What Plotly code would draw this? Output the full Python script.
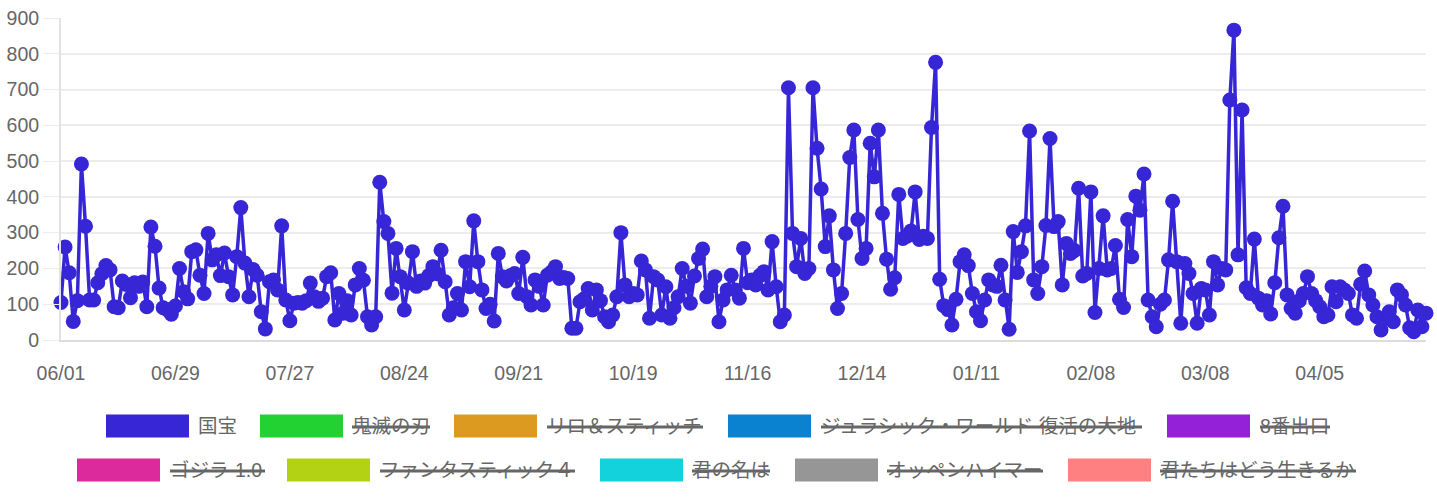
import pandas as pd
import plotly.graph_objects as go

# Daily values for 国宝, starting 2025-06-01
START_DATE = "2025-06-01"
kokuho_values = [
    105, 260, 188, 52, 110, 492, 318, 112, 112, 160,
    185, 208, 196, 93, 90, 165, 155, 118, 160, 150,
    162, 93, 316, 262, 145, 90, 85, 72, 95, 200,
    135, 115, 247, 252, 181, 130, 298, 224, 238, 180,
    243, 177, 126, 233, 370, 215, 121, 197, 181, 79,
    31, 163, 168, 140, 319, 112, 54, 103, 105, 103,
    110, 159, 121, 108, 117, 177, 188, 56, 130, 75,
    110, 70, 154, 200, 167, 65, 42, 65, 441, 331,
    298, 131, 256, 177, 84, 159, 247, 150, 165, 159,
    180, 205, 185, 251, 163, 70, 90, 130, 84, 219,
    149, 333, 219, 140, 88, 100, 53, 242, 177, 165,
    180, 186, 130, 231, 121, 98, 168, 150, 98, 181,
    190, 205, 172, 175, 172, 33, 33, 107, 115, 144,
    84, 140, 110, 65, 51, 70, 121, 300, 154, 121,
    130, 126, 221, 196, 61, 177, 168, 70, 149, 61,
    90, 121, 200, 150, 103, 179, 228, 254, 121, 150,
    177, 51, 112, 140, 181, 140, 117, 256, 160, 168,
    154, 180, 191, 140, 275, 149, 51, 70, 705, 298,
    205, 284, 186, 200, 705, 536, 422, 261, 347, 196,
    88, 130, 298, 510, 587, 337, 228, 256, 550, 456,
    587, 354, 226, 142, 174, 407, 284, 290, 305, 414,
    281, 290, 284, 594, 776, 170, 96, 85, 42, 114,
    219, 238, 208, 130, 79, 54, 112, 168, 154, 150,
    209, 112, 30, 303, 189, 247, 319, 584, 168, 130,
    205, 320, 563, 317, 331, 154, 270, 242, 250, 424,
    179, 186, 414, 77, 200, 347, 196, 200, 264, 114,
    91, 337, 233, 402, 363, 464, 112, 65, 37, 100,
    112, 224, 388, 219, 47, 214, 186, 130, 47, 144,
    140, 70, 219, 154, 200, 196, 671, 866, 238, 643,
    146, 130, 282, 117, 98, 110, 73, 160, 286, 374,
    126, 88, 75, 110, 130, 177, 130, 110, 93, 65,
    70, 149, 107, 149, 140, 130, 70, 61, 156, 193,
    126, 98, 65, 28, 60, 79, 51, 140, 126, 98,
    34, 23, 84, 37, 75,
]

series_names = [
    "国宝", "鬼滅の刃", "リロ＆スティッチ", "ジュラシック・ワールド 復活の大地", "8番出口",
    "ゴジラ-1.0", "ファンタスティック４", "君の名は", "オッペンハイマー", "君たちはどう生きるか",
]
series_colors = [
    "#3726d6", "#22d233", "#dc9a20", "#0a82d0", "#9420d8",
    "#dc2a9c", "#b4d214", "#14d2dc", "#969696", "#ff8080",
]
series_hidden = [False, True, True, True, True, True, True, True, True, True]

y_ticks = list(range(0, 901, 100))

dates = pd.date_range(START_DATE, periods=len(kokuho_values), freq="D")

# pixel geometry of the plot area (1437 x 500 page)
W, H = 1437, 500
PL, PR, PT, PB = 61, 1426, 18, 340
FONT_SIZE = 19.5


def px_x(px):
    return (px - PL) / (PR - PL)


def px_y(py):
    return (PB - py) / (PB - PT)


fig = go.Figure()

fig.add_trace(go.Scatter(
    x=dates,
    y=kokuho_values,
    mode="lines+markers",
    line=dict(color=series_colors[0], width=3.5),
    marker=dict(size=15, color=series_colors[0]),
    name=series_names[0],
    cliponaxis=False,
    showlegend=False,
))

# Hand-made legend (wide colour boxes, struck-through hidden items)
legend_layout = [
    # (row centre y, box left x, text left x, strike end x)
    (426, 106, 198, None),
    (426, 260, 352, 430),
    (426, 454, 547, 703),
    (426, 728, 821, 1142),
    (426, 1167, 1260, 1330),
    (470, 77, 170, 265),
    (470, 287, 380, 575),
    (470, 600, 692, 770),
    (470, 795, 887, 1043),
    (470, 1068, 1160, 1356),
]
BOX_W, BOX_H = 83, 23

shapes = []
annotations = []
for name, color, hidden, (cy, bx, tx, sx) in zip(series_names, series_colors, series_hidden, legend_layout):
    shapes.append(dict(
        type="rect", xref="paper", yref="paper",
        x0=px_x(bx), x1=px_x(bx + BOX_W),
        y0=px_y(cy - BOX_H / 2), y1=px_y(cy + BOX_H / 2),
        fillcolor=color, line=dict(width=0),
    ))
    annotations.append(dict(
        xref="paper", yref="paper", x=px_x(tx - 2), y=px_y(cy),
        xanchor="left", yanchor="middle", showarrow=False,
        text=name, font=dict(size=FONT_SIZE, color="#666666"),
    ))
    if hidden and sx is not None:
        shapes.append(dict(
            type="line", xref="paper", yref="paper",
            x0=px_x(tx), x1=px_x(sx), y0=px_y(cy + 1), y1=px_y(cy + 1),
            line=dict(color="#666666", width=3),
        ))

fig.update_layout(
    width=W, height=H,
    margin=dict(l=PL, r=W - PR, t=PT, b=H - PB, autoexpand=False),
    paper_bgcolor="white",
    plot_bgcolor="white",
    font=dict(family="Liberation Sans, Arial, Noto Sans CJK JP, sans-serif", size=FONT_SIZE, color="#666666"),
    showlegend=False,
    shapes=shapes,
    annotations=annotations,
    xaxis=dict(
        type="date",
        range=[dates[0], dates[-1]],
        tick0=START_DATE,
        dtick=28 * 86400000,
        tickformat="%m/%d",
        showgrid=False,
        zeroline=False,
        showline=True,
        linecolor="#dcdcdc",
        linewidth=2,
        ticks="outside",
        ticklen=12,
        tickcolor="rgba(0,0,0,0)",
        ticklabelstandoff=3,
        automargin=False,
    ),
    yaxis=dict(
        range=[0, 900],
        tickvals=y_ticks,
        showgrid=True,
        gridcolor="#ececec",
        gridwidth=1.5,
        zeroline=False,
        showline=True,
        linecolor="#e2e2e2",
        linewidth=2,
        ticks="outside",
        ticklen=16,
        tickcolor="#ececec",
        ticklabelstandoff=0,
        automargin=False,
    ),
)

# drop the browser's default body margin so the figure sits at the page corner
fig.write_html(
    "out.html",
    config={"displayModeBar": False},
    post_script="document.body.style.margin='0';",
)
